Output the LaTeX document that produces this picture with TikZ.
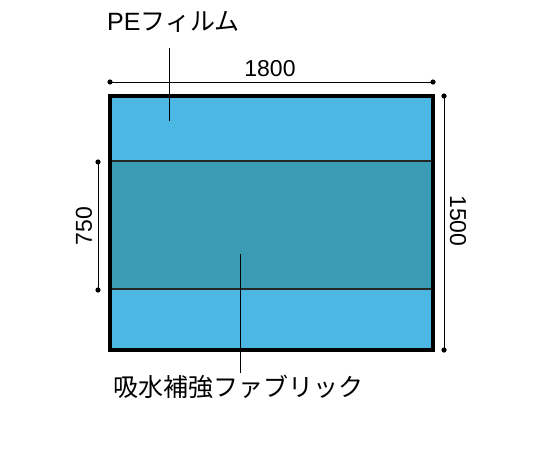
\documentclass[tikz,border=0pt]{standalone}
\usepackage{fontspec}
\setmainfont{Noto Sans CJK JP}
\newfontfamily\latin{Liberation Sans}
\definecolor{filmblue}{RGB}{76,183,226}
\definecolor{fabricteal}{RGB}{58,155,180}
\begin{document}
\begin{tikzpicture}[x=1pt,y=-1pt,
  lbl/.style={font=\fontsize{25}{30}\selectfont,inner sep=0pt},
  num/.style={font=\latin\fontsize{23}{27}\selectfont,inner sep=0pt}]
\useasboundingbox (0,0) rectangle (540,450);
% sheet
\fill[filmblue] (110,96) rectangle (433,350);
\fill[fabricteal] (110,161) rectangle (433,289);
\draw[line width=1.2pt,black!85] (110,161) -- (433,161);
\draw[line width=1.2pt,black!85] (110,289) -- (433,289);
\draw[line width=3.5pt] (110,96) rectangle (433,350);
% dimensions
\coordinate (w1) at (110,82); \coordinate (w2) at (433,82);
\coordinate (h1) at (444,96); \coordinate (h2) at (444,350);
\coordinate (b1) at (98,162); \coordinate (b2) at (98,290);
\draw[thin] (w1) -- (w2);
\draw[thin] (h1) -- (h2);
\draw[thin] (b1) -- (b2);
\foreach \p in {w1,w2,h1,h2,b1,b2}
  \fill (\p) circle [radius=2.6];
\node[num] (wide) at (270,69) {1800};
\node[num,rotate=-90] (high) at (458,221) {1500};
\node[num,rotate=90] (band) at (84,226) {750};
% labels
\node[lbl,anchor=west] (film) at (107,22) {{\latin PE}フィルム};
\coordinate (filmtop) at (169,48); \coordinate (filmend) at (169,121);
\draw[thin] (filmtop) -- (filmend);
\node[lbl] (fabric) at (238,387) {吸水補強ファブリック};
\coordinate (fabricend) at (240,254);
\coordinate (fabrictop) at (240,373);
\draw[thin] (fabricend) -- (fabrictop);
\end{tikzpicture}
\end{document}
